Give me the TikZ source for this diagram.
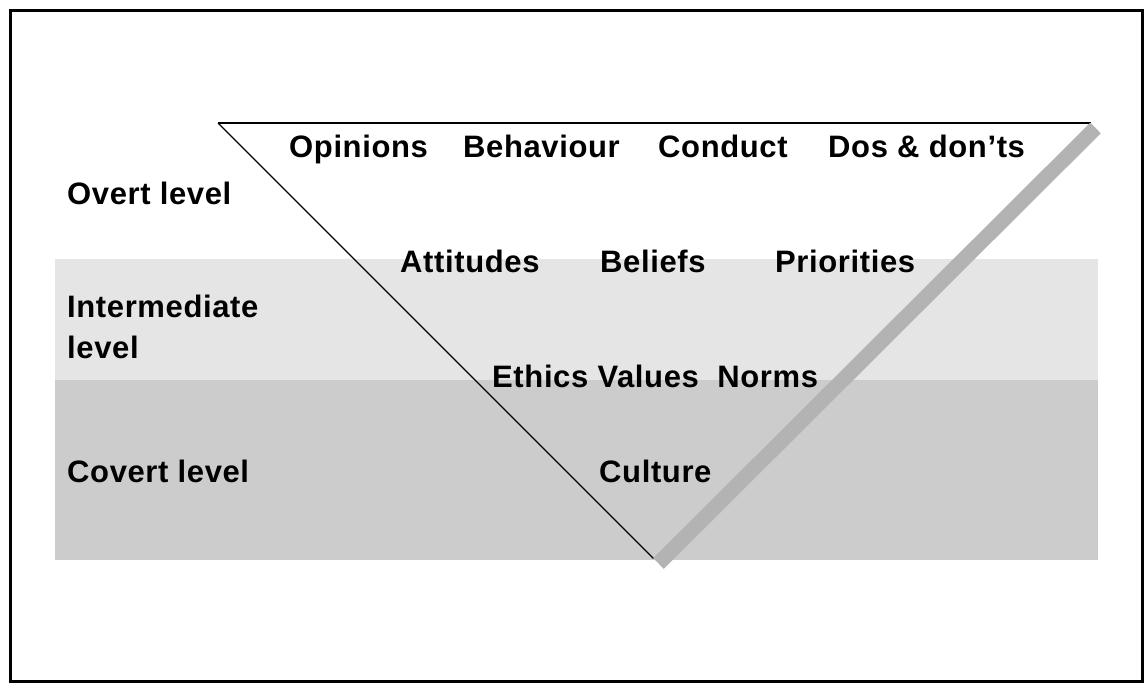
\documentclass[tikz,border=0pt]{standalone}
\usepackage{fontspec}
\newfontfamily\lblfont{Liberation Sans}[LetterSpace=2]
\definecolor{bandlight}{HTML}{E5E5E5}
\definecolor{banddark}{HTML}{CCCCCC}
\definecolor{bargray}{HTML}{B3B3B3}
\tikzset{
  lbl/.style={anchor=base west, inner sep=0pt, font=\lblfont\bfseries\fontsize{31bp}{41bp}\selectfont, text=black},
  thinedge/.style={draw=black, line width=1.3bp},
  baredge/.style={draw=bargray, line width=15bp, line cap=butt},
}
\begin{document}
\begin{tikzpicture}[x=1bp,y=-1bp]
\useasboundingbox (0,0) rectangle (1146,684);
% outer frame
\draw[line width=3bp] (10.5,10.5) rectangle (1142.3,681.5);
% bands
\fill[bandlight] (55,259) rectangle (1098,380);
\fill[banddark] (55,380) rectangle (1098,560);
% triangle corners
\coordinate (tl) at (218,123);
\coordinate (tr) at (1091,123);
\coordinate (bot) at (653.5,558.5);
\coordinate (barbot) at (658.5,563.5);
\coordinate (bartop) at (1095.5,128);
\draw[thinedge] (tl) -- (tr);
\draw[thinedge] (tl) -- (bot);
\draw[baredge] (barbot) -- (bartop);
% labels
\node[lbl] (overt) at (67,205) {Overt level};
\node[lbl, align=left] (interm) at (67,358) {Intermediate\\level};
\node[lbl] (covert) at (67,482) {Covert level};
\node[lbl] (opinions) at (289,158) {Opinions};
\node[lbl] (behaviour) at (463,158) {Behaviour};
\node[lbl] (conduct) at (658,158) {Conduct};
\node[lbl] (dos) at (828,158) {Dos \& don’ts};
\node[lbl] (attitudes) at (400,272) {Attitudes};
\node[lbl] (beliefs) at (600,272) {Beliefs};
\node[lbl] (priorities) at (775,272) {Priorities};
\node[lbl] (ethics) at (492,387) {Ethics Values\ \ Norms};
\node[lbl] (culture) at (599,482) {Culture};
\end{tikzpicture}
\end{document}
